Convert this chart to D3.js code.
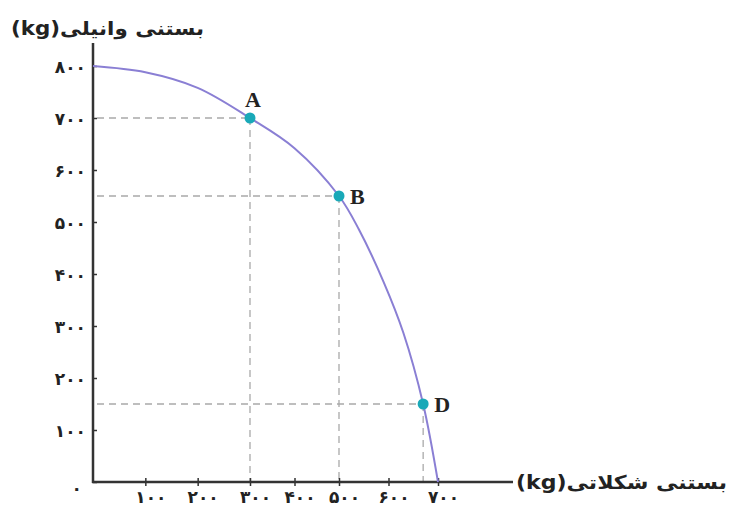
<!DOCTYPE html>
<html>
<head>
<meta charset="utf-8">
<script src="https://cdn.jsdelivr.net/npm/d3@7"></script>
<style>
    body { margin: 0; background: white; }
    .tick text { font-family: "DejaVu Sans", sans-serif; font-weight: bold; font-size: 17px; letter-spacing: 1.5px; fill: #222; }
</style>
</head>
<body>
<div id="chart"></div>
<script>
//values (kg)
var xTicks = [100, 200, 300, 400, 500, 600, 700];
var yTicks = [0, 100, 200, 300, 400, 500, 600, 700, 800];
var curveX = [0, 100, 200, 300, 400, 500, 540, 590, 630, 670, 700];
var curveY = [800, 788, 758, 700, 642, 550, 486, 385, 287, 150, 0];
var pointNames = ["A", "B", "D"];
var pointX = [300, 500, 670];
var pointY = [700, 550, 150];
var xTitle = "بستنی شکلاتی";
var yTitle = "بستنی وانیلی";
var unit = "(kg)";

var width = 733, height = 512;
var faDigits = "۰۱۲۳۴۵۶۷۸۹";

function toFa(n) {
    return String(n).replace(/[0-9]/g, function(d) { return faDigits[+d]; });
}

var svg = d3.select("#chart")
    .append("svg")
    .attr("width", width)
    .attr("height", height)

//the drawn x axis is not evenly spaced, so the scale is piecewise
var x = d3.scaleLinear().domain([0, 300, 500, 700]).range([93, 250, 339, 438]);
var y = d3.scaleLinear().domain([0, 800]).range([482, 66]);

//dashed guides from each point to both axes
var guides = svg.append("g").attr("class", "guides");
pointNames.forEach(function(name, i) {
    guides.append("line")
        .attr("x1", x(0) + 4).attr("y1", y(pointY[i]))
        .attr("x2", x(pointX[i])).attr("y2", y(pointY[i]))
    guides.append("line")
        .attr("x1", x(pointX[i])).attr("y1", y(pointY[i]))
        .attr("x2", x(pointX[i])).attr("y2", y(0))
});
guides.selectAll("line")
    .attr("stroke", "#a9a9a9")
    .attr("stroke-width", 1.3)
    .attr("stroke-dasharray", "7,5")

//axes
var yAxis = svg.append("g")
    .attr("transform", "translate(" + x(0) + ",0)")
    .call(d3.axisLeft(y).tickValues(yTicks).tickSize(4).tickPadding(3).tickFormat(toFa))
yAxis.select(".domain").remove();
yAxis.selectAll(".tick line").attr("x2", 4).attr("stroke", "#333").attr("stroke-width", 1.5);
yAxis.selectAll(".tick text").attr("dy", "0.4em");
yAxis.selectAll(".tick").filter(function(d) { return d == 0; }).select("text")
    .attr("font-size", "10px").attr("dx", -4).attr("dy", "0.7em");

var xAxis = svg.append("g")
    .attr("transform", "translate(0," + y(0) + ")")
    .call(d3.axisBottom(x).tickValues(xTicks).tickSize(4).tickPadding(5).tickFormat(toFa))
xAxis.select(".domain").remove();
xAxis.selectAll(".tick line").attr("y1", -4).attr("stroke", "#333").attr("stroke-width", 1.5);
xAxis.selectAll(".tick text").attr("dx", 5);

svg.append("line")
    .attr("x1", x(0)).attr("y1", 43).attr("x2", x(0)).attr("y2", y(0) + 1)
    .attr("stroke", "#333").attr("stroke-width", 2.5)
svg.append("line")
    .attr("x1", x(0) - 1).attr("y1", y(0)).attr("x2", 513).attr("y2", y(0))
    .attr("stroke", "#333").attr("stroke-width", 2.5)

//axis titles, unit first so the bidi order matches the picture
svg.append("text")
    .attr("x", 11).attr("y", 35)
    .attr("font-family", "DejaVu Sans").attr("font-weight", "bold").attr("font-size", 19)
    .attr("textLength", 193).attr("lengthAdjust", "spacingAndGlyphs")
    .attr("fill", "#222")
    .text(unit + yTitle)
svg.append("text")
    .attr("x", 516).attr("y", 489)
    .attr("font-family", "DejaVu Sans").attr("font-weight", "bold").attr("font-size", 19)
    .attr("textLength", 211).attr("lengthAdjust", "spacingAndGlyphs")
    .attr("fill", "#222")
    .text(unit + xTitle)

//frontier curve
var curveData = curveX.map(function(v, i) { return [v, curveY[i]]; });
svg.append("path")
    .datum(curveData)
    .attr("fill", "none")
    .attr("stroke", "#8a7fd4")
    .attr("stroke-width", 2)
    .attr("d", d3.line()
        .x(function(d) { return x(d[0]); })
        .y(function(d) { return y(d[1]); })
        .curve(d3.curveCatmullRom.alpha(0.5)))

//points and their letters
var pts = svg.selectAll(".pt")
    .data(pointNames)
    .enter()
    .append("g")
    .attr("class", "pt")
    .attr("transform", function(d, i) { return "translate(" + x(pointX[i]) + "," + y(pointY[i]) + ")"; })
pts.append("circle")
    .attr("r", 5.5)
    .attr("fill", "#19a9b8")
pts.append("text")
    .attr("x", function(d) { return d == "A" ? -5 : 11; })
    .attr("y", function(d) { return d == "A" ? -11 : 8; })
    .attr("font-family", "Liberation Serif").attr("font-weight", "bold").attr("font-size", 22)
    .attr("fill", "#222")
    .text(function(d) { return d; })
</script>
</body>
</html>
